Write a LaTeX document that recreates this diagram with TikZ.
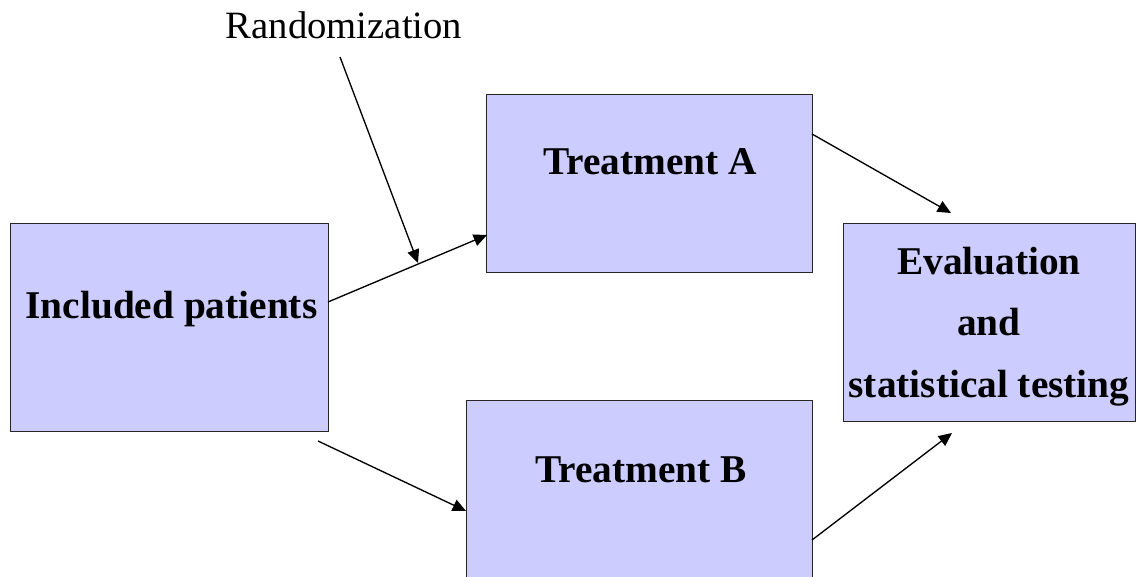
\documentclass[tikz,border=0pt]{standalone}
\usepackage{fontspec}
\setmainfont{Liberation Serif}
\usetikzlibrary{arrows.meta}
\tikzset{
  box/.style={draw=black!85, line width=0.75pt, fill={rgb,255:red,204;green,204;blue,255}, inner sep=0pt},
  lbl/.style={font=\fontsize{29.5}{46}\selectfont\bfseries, anchor=base, align=center, inner sep=0pt},
}
\begin{document}
\begin{tikzpicture}[x=0.75pt, y=-0.75pt, >={Triangle[length=10pt,width=9pt]}]
      \useasboundingbox (0,0) rectangle (1137,577);
      % boxes
      \node (inc) [box, minimum width=238.5pt, minimum height=155.25pt] at (169,327.5) {};
      \node (tra) [box, minimum width=244.5pt, minimum height=132.75pt] at (649,183.5) {};
      \node (trb) [box, minimum width=259.5pt, minimum height=133.5pt] at (639,489) {};
      \node (eva) [box, minimum width=219pt, minimum height=147.75pt] at (989,322.5) {};
      % texts
      \node (inctext) [lbl] at (171.5,318) {Included patients};
      \node (tratext) [lbl] at (650,175) {Treatment A};
      \node (trbtext) [lbl] at (641,482) {Treatment B};
      \node (evatext) [lbl] at (989,397) {Evaluation\\and\\statistical testing};
      \node (rand) [font=\fontsize{29}{35}\selectfont, anchor=base, inner sep=0pt] at (344,39) {Randomization};
      % arrow ends
      \coordinate (inc1) at (328,302);
      \coordinate (inc2) at (318,441);
      \coordinate (tra1) at (487,235);
      \coordinate (tra2) at (812,134);
      \coordinate (trb1) at (466,511);
      \coordinate (trb2) at (812,540);
      \coordinate (eva1) at (951,213);
      \coordinate (eva2) at (952,433);
      \coordinate (rand1) at (340,57);
      \coordinate (rand2) at (418,263);
      \begin{scope}[->, line width=1pt]
        \draw (inc1) to (tra1);
        \draw (inc2) to (trb1);
        \draw (tra2) to (eva1);
        \draw (trb2) to (eva2);
        \draw (rand1) to (rand2);
      \end{scope}
    \end{tikzpicture}
\end{document}
